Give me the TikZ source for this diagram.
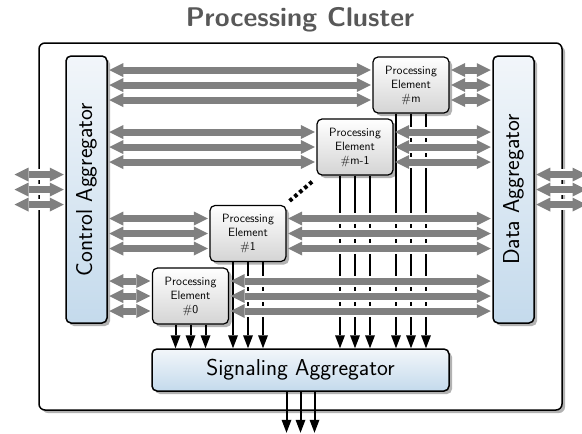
\documentclass[tikz,border=0pt]{standalone}
\usetikzlibrary{arrows.meta,shadows,calc}
\definecolor{aggtop}{RGB}{242,246,250}
\definecolor{aggbot}{RGB}{196,218,236}
\definecolor{petop}{RGB}{255,255,255}
\definecolor{pebot}{RGB}{212,212,212}
\definecolor{busgray}{RGB}{128,128,128}
\definecolor{titlegray}{RGB}{88,88,88}
\begin{document}
\begin{tikzpicture}[x=1pt,y=-1pt,
  shadowed/.style={drop shadow={shadow xshift=3pt,shadow yshift=-3pt,fill=black!30,opacity=1}},
  cluster/.style={draw=black,line width=1.5pt,rounded corners=6pt,fill=white,shadowed,inner sep=0pt},
  agg/.style={draw=black,line width=1.5pt,rounded corners=5pt,top color=aggtop,bottom color=aggbot,shadowed,inner sep=0pt,font=\sffamily\fontsize{23}{27}\selectfont},
  pe/.style={draw=black,line width=1.2pt,rounded corners=5pt,top color=petop,bottom color=pebot,shadowed,inner sep=0pt,align=center,minimum width=76pt,minimum height=56pt,font=\sffamily\fontsize{12}{14}\selectfont},
  bus/.style={draw=busgray,line width=7pt,{Triangle[length=14pt,width=14pt,line width=0pt]}-{Triangle[length=14pt,width=14pt,line width=0pt]},shorten <=1.5pt,shorten >=1.5pt},
  bushalo/.style={draw=white,line width=11pt,shorten <=16pt,shorten >=16pt},
  sig/.style={draw=black,line width=2pt,-{Triangle[length=13pt,width=10pt,line width=0pt]}},
  dots/.style={draw=black,line width=4pt,dash pattern=on 3.5pt off 3pt}
]
\useasboundingbox (0,0) rectangle (582,434);

\node[font=\sffamily\bfseries\fontsize{27}{32}\selectfont,text=titlegray] (title) at (300,20) {Processing Cluster};
\node[cluster,minimum width=523pt,minimum height=367pt] (cl) at (300.5,226.5) {};

\node[agg,minimum width=41pt,minimum height=267pt] (ca) at (86.5,189.5) {\rotatebox{90}{Control Aggregator}};
\node[agg,minimum width=41pt,minimum height=267pt] (da) at (513.5,189.5) {\rotatebox{90}{Data Aggregator}};
\node[agg,minimum width=297pt,minimum height=42pt] (sa) at (300.5,370) {Signaling Aggregator};

\node[pe] (pem)  at (411,85)    {Processing\\Element\\\#m};
\node[pe] (pem1) at (355,147)   {Processing\\Element\\\#m-1};
\node[pe] (pe1)  at (248,233.5) {Processing\\Element\\\#1};
\node[pe] (pe0)  at (190.5,296) {Processing\\Element\\\#0};

% signal lines to the signaling aggregator
\foreach \n in {pem,pem1,pe1,pe0}{
  \foreach \dx [count=\i] in {-15,0,15}{
    \path (\n.south) ++(\dx,0) coordinate (\n-l\i);
    \draw[sig] (\n-l\i) -- (\n-l\i |- sa.north);
  }
}
% output of the signaling aggregator
\foreach \dx [count=\i] in {-14,0,14}{
  \path (sa.south) ++(\dx,0) coordinate (o\i);
  \path (o\i) ++(0,41) coordinate (oe\i);
  \draw[sig] (o\i) -- (oe\i);
}

% buses
\foreach \n in {pem,pem1,pe1,pe0}{
  \foreach \dy [count=\i] in {-15,0,15}{
    \path (\n.west) ++(0,\dy) coordinate (\n-w\i);
    \path (\n.east) ++(0,\dy) coordinate (\n-e\i);
    \draw[bushalo] (\n-w\i -| ca.east) -- (\n-w\i);
    \draw[bus] (\n-w\i -| ca.east) -- (\n-w\i);
    \draw[bushalo] (\n-e\i) -- (\n-e\i -| da.west);
    \draw[bus] (\n-e\i) -- (\n-e\i -| da.west);
  }
}
% external buses
\foreach \dy [count=\i] in {-15,0,15}{
  \path (ca.west) ++(0,\dy) coordinate (cw\i);
  \path (13,0) coordinate (lx);
  \coordinate (le\i) at (lx |- cw\i);
  \draw[bushalo] (le\i) -- (cw\i);
  \draw[bus] (le\i) -- (cw\i);
  \path (da.east) ++(0,\dy) coordinate (de\i);
  \path (588,0) coordinate (rx);
  \coordinate (re\i) at (rx |- de\i);
  \draw[bushalo] (de\i) -- (re\i);
  \draw[bus] (de\i) -- (re\i);
}

% dots between PE #1 and PE #m-1
\path (pe1.north east) ++(3,-4) coordinate (d1);
\path (pem1.south west) ++(-3,5) coordinate (d2);
\draw[dots] (d1) -- (d2);
\end{tikzpicture}
\end{document}
